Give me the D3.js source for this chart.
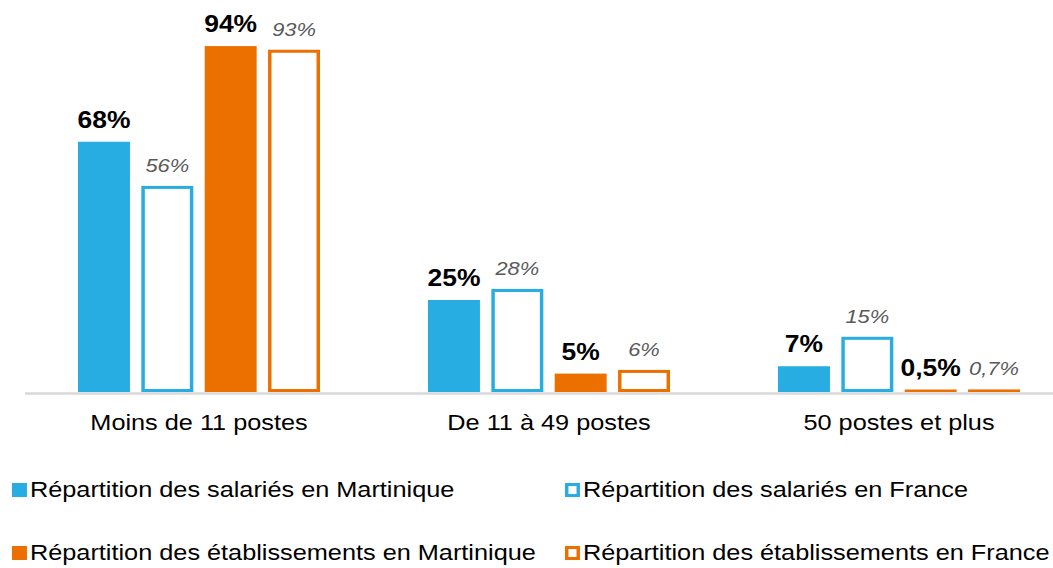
<!DOCTYPE html>
<html>
<head>
<meta charset="utf-8">
<script src="https://cdn.jsdelivr.net/npm/d3@7"></script>
<style>
  html, body { margin: 0; padding: 0; background: #fff; }
  svg { display: block; font-family: Arial, 'Liberation Sans', sans-serif; }
</style>
</head>
<body>
<svg id="chart"></svg>
<script>
// chart data
const categories = ['Moins de 11 postes', 'De 11 à 49 postes', '50 postes et plus'];
const seriesNames = [
    'Répartition des salariés en Martinique',
    'Répartition des salariés en France',
    'Répartition des établissements en Martinique',
    'Répartition des établissements en France'
];
const salariesMartinique = [68, 25, 7];
const salariesFrance = [56, 28, 15];
const etabMartinique = [94, 5, 0.5];
const etabFrance = [93, 6, 0.7];

const width = 1053;
const height = 568;
// the original picture is stretched a little horizontally
const sx = 1.15;
const W = width / sx;

const blue = '#27ade2';
const orange = '#ec7000';

// one entry per series, with its style
const series = [
    { name: seriesNames[0], values: salariesMartinique, color: blue, filled: true },
    { name: seriesNames[1], values: salariesFrance, color: blue, filled: false },
    { name: seriesNames[2], values: etabMartinique, color: orange, filled: true },
    { name: seriesNames[3], values: etabFrance, color: orange, filled: false }
];

const fmt = v => String(v).replace('.', ',') + '%';

const svg = d3.select('#chart')
    .attr('width', width)
    .attr('height', height)
    .attr('viewBox', `0 0 ${W} ${height}`)
    .attr('preserveAspectRatio', 'none');

const x0 = d3.scaleBand()
    .domain(categories)
    .range([24 / sx, 1074 / sx])
    .paddingInner(0.3086)
    .paddingOuter(0.1543);

const x1 = d3.scaleBand()
    .domain(series.map(s => s.name))
    .range([0, x0.bandwidth()])
    .paddingInner(0.18)
    .paddingOuter(0);

const y = d3.scaleLinear()
    .domain([0, 100])
    .range([392, 24]);

// baseline
svg.append('line')
    .attr('x1', 25 / sx).attr('x2', W)
    .attr('y1', y(0) + 1.5).attr('y2', y(0) + 1.5)
    .attr('stroke', '#d9d9d9')
    .attr('stroke-width', 2.5);

// bars
const groups = svg.selectAll('g.cat')
    .data(categories)
    .enter().append('g')
    .attr('class', 'cat')
    .attr('transform', c => `translate(${x0(c)},0)`);

groups.each(function (c, i) {
    const g = d3.select(this);
    series.forEach(s => {
        const v = s.values[i];
        const bx = x1(s.name);
        const bw = x1.bandwidth();
        const h = y(0) - y(v);
        if (s.filled || h <= 4) {
            // very short outlined bars only show as a thin coloured strip
            g.append('rect')
                .attr('x', bx).attr('width', bw)
                .attr('y', y(0) - Math.max(h, 2.5)).attr('height', Math.max(h, 2.5))
                .attr('fill', s.color);
        } else {
            g.append('rect')
                .attr('x', bx + 1.5).attr('width', bw - 3)
                .attr('y', y(v) + 1.5).attr('height', h - 3)
                .attr('fill', '#fff')
                .attr('stroke', s.color)
                .attr('stroke-width', 3);
        }
        // value label
        g.append('text')
            .attr('x', bx + bw / 2)
            .attr('y', y(v) - 14)
            .attr('text-anchor', 'middle')
            .attr('font-size', s.filled ? 23 : 19)
            .attr('font-weight', s.filled ? 'bold' : 'normal')
            .attr('font-style', s.filled ? 'normal' : 'italic')
            .attr('fill', s.filled ? '#000' : '#595959')
            .text(fmt(v));
    });
});

// category labels
svg.selectAll('text.cat-label')
    .data(categories)
    .enter().append('text')
    .attr('class', 'cat-label')
    .attr('x', c => x0(c) + x0.bandwidth() / 2)
    .attr('y', 430)
    .attr('text-anchor', 'middle')
    .attr('font-size', 22)
    .attr('fill', '#000')
    .text(c => c);

// legend, 2 x 2
const legendPos = [
    { x: 12, y: 497 },
    { x: 565, y: 497 },
    { x: 12, y: 560 },
    { x: 565, y: 560 }
];

const legend = svg.selectAll('g.legend')
    .data(series)
    .enter().append('g')
    .attr('class', 'legend')
    .attr('transform', (d, i) => `translate(${legendPos[i].x / sx},${legendPos[i].y})`);

legend.append('rect')
    .attr('x', d => d.filled ? 0 : 1.5)
    .attr('y', d => d.filled ? -14 : -12.5)
    .attr('width', d => d.filled ? 13 : 10)
    .attr('height', d => d.filled ? 14 : 11)
    .attr('fill', d => d.filled ? d.color : '#fff')
    .attr('stroke', d => d.filled ? 'none' : d.color)
    .attr('stroke-width', 3);

legend.append('text')
    .attr('x', 18 / sx)
    .attr('y', 0)
    .attr('font-size', 22)
    .attr('fill', '#000')
    .text(d => d.name);
</script>
</body>
</html>
